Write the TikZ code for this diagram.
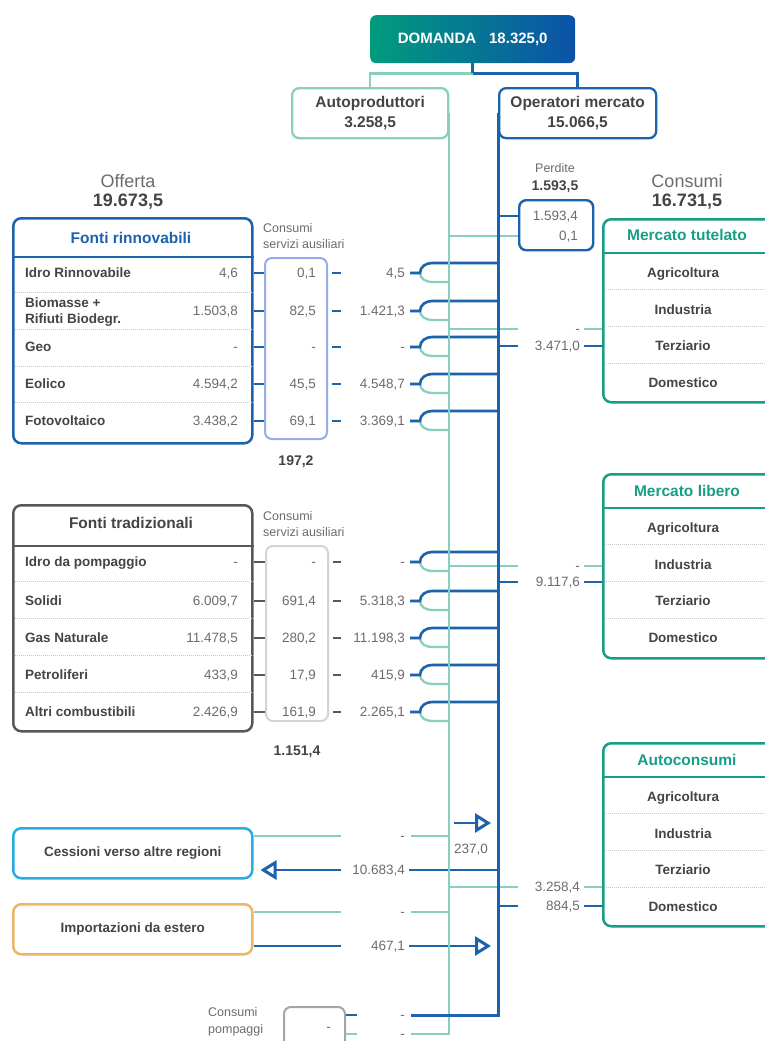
\documentclass[tikz,border=0pt]{standalone}
\usepackage{fontspec}
\setmainfont{Liberation Sans}
\usetikzlibrary{arrows.meta,positioning,calc}
\definecolor{opblue}{RGB}{28,98,172}
\definecolor{autoteal}{RGB}{136,207,192}
\definecolor{consgreen}{RGB}{22,158,134}
\definecolor{auxblue}{RGB}{150,172,232}
\definecolor{tradgray}{RGB}{88,88,88}
\definecolor{auxgray}{RGB}{212,212,212}
\definecolor{pompgray}{RGB}{165,165,165}
\definecolor{cessblue}{RGB}{38,174,226}
\definecolor{imporange}{RGB}{237,182,102}
\definecolor{valgray}{RGB}{108,108,108}
\definecolor{labgray}{RGB}{68,68,68}
\definecolor{domgreen}{RGB}{0,156,126}
\definecolor{domblue}{RGB}{12,82,168}
\colorlet{stemcol}{domgreen!45!domblue}

% net value splits into the two bars
\newcommand{\netfork}[1]{%
  \draw[tl] ($(#1.east)+(5,0)$) -- ++(10,0) to[out=-90,in=180] ++(12,9) coordinate (#1-d) -- (#1-d -| tA);
  \draw[bl] ($(#1.east)+(5,0)$) -- ++(10,0) to[out=90,in=180] ++(12,-10) coordinate (#1-u) -- (#1-u -| tB);
}

\begin{document}
\begin{tikzpicture}[x=1pt, y=-1pt,
    panel/.style={draw, line width=2.5pt, rounded corners=8pt, anchor=north west, inner sep=0pt},
    auxbox/.style={draw, line width=2pt, rounded corners=7pt, anchor=north west, inner sep=0pt},
    lab/.style={anchor=west, inner sep=0pt, text=labgray, font=\fontsize{13.5}{16}\selectfont\bfseries, text height=10pt, text depth=0.5pt},
    val/.style={anchor=east, inner sep=0pt, text=valgray, font=\fontsize{13.5}{16}\selectfont, text height=10pt, text depth=0.5pt},
    sector/.style={lab, anchor=center},
    ttl/.style={inner sep=0pt, font=\fontsize{15.5}{19}\selectfont\bfseries, text height=11.5pt, text depth=0.5pt},
    small/.style={inner sep=0pt, text=valgray, font=\fontsize{12.5}{16.5}\selectfont, align=left},
    tot/.style={inner sep=0pt, text=labgray, font=\fontsize{14}{16}\selectfont\bfseries, text height=10pt, text depth=0.5pt},
    headtxt/.style={inner sep=0pt, text=valgray, font=\fontsize{18}{20}\selectfont},
    headtot/.style={inner sep=0pt, text=labgray, font=\fontsize{18}{20}\selectfont\bfseries},
    bl/.style={draw=opblue, line width=2.6pt},
    tl/.style={draw=autoteal, line width=2.3pt},
    gl/.style={draw=tradgray, line width=2.6pt},
    sep/.style={draw=black!22, densely dotted, line width=1pt},
    openarrow/.style={-{Triangle[open, fill=white, length=16pt, width=19pt, line width=3pt]}},
  ]
  \useasboundingbox (0,0) rectangle (765,1041);
  \clip (0,0) rectangle (765,1041);
  \fill[white] (0,0) rectangle (765,1041);

  % demand and the two groups
  \node[anchor=north west, minimum width=205pt, minimum height=48pt, inner sep=0pt, rounded corners=6pt,
        left color=domgreen, right color=domblue, text=white, font=\fontsize{15}{17}\selectfont\bfseries]
        (dom) at (370,15) {DOMANDA\hspace{13pt}18.325,0};
  \node[panel, draw=autoteal, line width=2.3pt, minimum width=156pt, minimum height=50pt, rounded corners=7pt,
        align=center, text=labgray, font=\fontsize{15.5}{20}\selectfont\bfseries] (auto) at (291,87) {Autoproduttori\\3.258,5};
  \node[panel, draw=opblue, line width=2.3pt, minimum width=157pt, minimum height=50pt, rounded corners=7pt,
        align=center, text=labgray, font=\fontsize{15.5}{20}\selectfont\bfseries] (oper) at (498,87) {Operatori mercato\\15.066,5};
  \coordinate (split) at ($(dom.south)+(0,10)$);
  \draw[tl] (split) -| (auto.north);
  \draw[bl] (split) -| (oper.north);
  \draw[draw=stemcol, line width=2.6pt] (dom.south) -- (split);

  \coordinate (tA) at (auto.east);
  \coordinate (tB) at (oper.west);
  \coordinate (gapM) at (341,0);
  \coordinate (gapL) at (518,0);
  \coordinate (gapS) at (357,0);

  \node[headtxt] (off) at (128,181) {Offerta};
  \node[headtot] (offtot) at (128,202) {19.673,5};
  \node[headtxt] (cons) at (687,181) {Consumi};
  \node[headtot] (constot) at (687,202) {16.731,5};

  % perdite
  \node[small] (perdlab) at (555,168) {Perdite};
  \node[tot] (perdtot) at (555,186) {1.593,5};
  \node[auxbox, draw=opblue, line width=2.4pt, minimum width=74pt, minimum height=50pt] (perd) at (518,199) {};
  \node[val] (perd1) at (578,216) {1.593,4};
  \node[val] (perd2) at (578,236) {0,1};

  % fonti rinnovabili
  \node[panel, draw=opblue, minimum width=239pt, minimum height=225pt] (rinn) at (12,217) {};
  \draw[opblue, line width=2.5pt] (rinn.west |- 0,257) -- (rinn.east |- 0,257);
  \node[ttl, text=opblue] (rinnttl) at (131,238) {Fonti rinnovabili};
  \foreach \yy in {292,329,366,402} \draw[sep] (rinn.west |- 0,\yy) ++(3,0) -- (rinn.east |- 0,\yy);
  \node[auxbox, draw=auxblue, minimum width=62pt, minimum height=181pt] (rinnaux) at (264,257) {};
  \node[small, above right=8pt and -1pt of rinnaux.north west] (rinnauxlab) {Consumi\\servizi ausiliari};
  \node[tot, below=15pt of rinnaux] (rinnsum) {197,2};

  % fonti tradizionali
  \node[panel, draw=tradgray, minimum width=239pt, minimum height=226pt] (trad) at (12,504) {};
  \draw[tradgray, line width=2.5pt] (trad.west |- 0,546) -- (trad.east |- 0,546);
  \node[ttl, text=labgray] (tradttl) at (131,523) {Fonti tradizionali};
  \foreach \yy in {581,618,655,692} \draw[sep] (trad.west |- 0,\yy) ++(3,0) -- (trad.east |- 0,\yy);
  \node[auxbox, draw=auxgray, minimum width=62pt, minimum height=175pt] (tradaux) at (265,545) {};
  \node[small, above right=8pt and -2pt of tradaux.north west] (tradauxlab) {Consumi\\servizi ausiliari};
  \node[tot, below=23pt of tradaux] (tradsum) {1.151,4};

  % consumi
  \node[panel, draw=consgreen, minimum width=200pt, minimum height=183pt] (tut) at (602,218) {};
  \node[panel, draw=consgreen, minimum width=200pt, minimum height=184pt] (lib) at (602,473) {};
  \node[panel, draw=consgreen, minimum width=200pt, minimum height=183pt] (aut) at (602,742) {};
  \node[ttl, text=consgreen] (tutttl) at (687,235) {Mercato tutelato};
  \node[ttl, text=consgreen] (libttl) at (687,491) {Mercato libero};
  \node[ttl, text=consgreen] (autttl) at (687,760) {Autoconsumi};
  \foreach \p in {tut,lib,aut}{
    \draw[consgreen, line width=2.5pt] ($(\p.north west)+(0,35)$) -- ($(\p.north east)+(0,35)$);
    \foreach \d in {71,108,145} \draw[sep] ($(\p.north west)+(4,\d)$) -- ($(\p.north east)+(0,\d)$);
    \foreach \s [count=\k] in {Agricoltura,Industria,Terziario,Domestico}
      \node[sector] (\p\k) at ($(\p.north west)+(81,18+36.7*\k)$) {\s};
  }
  \node[val] (tutT) at (580,329) {-};
  \node[val] (tutB) at (580,346) {3.471,0};
  \node[val] (libT) at (580,566) {-};
  \node[val] (libB) at (580,582) {9.117,6};
  \node[val] (autT) at (580,887) {3.258,4};
  \node[val] (autB) at (580,906) {884,5};

  % scambi
  \node[panel, draw=cessblue, minimum width=239pt, minimum height=50pt, text=labgray,
        font=\fontsize{13.5}{16}\selectfont\bfseries] (cess) at (12,827) {Cessioni verso altre regioni};
  \node[val] (cessT) at (405,836) {-};
  \node[val] (cessB) at (405,870) {10.683,4};
  \node[val, anchor=center] (exch) at (471,849) {237,0};
  \node[panel, draw=imporange, minimum width=239pt, minimum height=50pt, text=labgray,
        font=\fontsize{13.5}{16}\selectfont\bfseries] (imp) at (12,903) {Importazioni da estero};
  \node[val] (impT) at (405,912) {-};
  \node[val] (impB) at (405,946) {467,1};

  \node[small, anchor=west] (pomplab) at (208,1022) {Consumi\\pompaggi};
  \node[auxbox, draw=pompgray, minimum width=61pt, minimum height=50pt] (pomp) at (283,1006) {};
  \node[val] (pompv) at (331,1027) {-};
  \node[val] (pompB) at (405,1015) {-};
  \node[val] (pompT) at (405,1034) {-};

  % branches
  \draw[tl] (perd2 -| tA) -- (perd2 -| perd.west);
  \draw[bl] (perd1 -| tB) -- (perd1 -| perd.west);

  \foreach \nm/\yy/\txt/\vs/\vx/\vn in {
      1/273/{Idro Rinnovabile}/{4,6}/{0,1}/{4,5},
      2/311/{\begin{tabular}{@{}l@{}}Biomasse +\\Rifiuti Biodegr.\end{tabular}}/{1.503,8}/{82,5}/{1.421,3},
      3/347/Geo/-/-/-,
      4/384/Eolico/{4.594,2}/{45,5}/{4.548,7},
      5/421/Fotovoltaico/{3.438,2}/{69,1}/{3.369,1}}{
    \node[lab] (rl\nm) at (25,\yy) {\txt};
    \node[val] (rv\nm) at (238,\yy) {\vs};
    \node[val] (ra\nm) at (316,\yy) {\vx};
    \node[val] (rn\nm) at (405,\yy) {\vn};
    \draw[bl] (rinn.east |- rv\nm) -- (rinnaux.west |- rv\nm);
    \draw[bl] ($(rinnaux.east |- ra\nm)+(4,0)$) -- (ra\nm -| gapM);
    \netfork{rn\nm}
  }
  \foreach \nm/\yy/\txt/\vs/\vx/\vn in {
      1/562/{Idro da pompaggio}/-/-/-,
      2/601/Solidi/{6.009,7}/{691,4}/{5.318,3},
      3/638/{Gas Naturale}/{11.478,5}/{280,2}/{11.198,3},
      4/675/Petroliferi/{433,9}/{17,9}/{415,9},
      5/712/{Altri combustibili}/{2.426,9}/{161,9}/{2.265,1}}{
    \node[lab] (tl\nm) at (25,\yy) {\txt};
    \node[val] (tv\nm) at (238,\yy) {\vs};
    \node[val] (ta\nm) at (316,\yy) {\vx};
    \node[val] (tn\nm) at (405,\yy) {\vn};
    \draw[gl] (trad.east |- tv\nm) -- (tradaux.west |- tv\nm);
    \draw[gl] ($(tradaux.east |- ta\nm)+(4,0)$) -- (ta\nm -| gapM);
    \netfork{tn\nm}
  }

  \foreach \p in {tut,lib,aut}{
    \draw[tl] (\p T -| tA) -- (\p T -| gapL);
    \draw[tl] ($(\p T.east)+(4,0)$) -- (\p T -| \p.west);
    \draw[bl] (\p B -| tB) -- (\p B -| gapL);
    \draw[bl] ($(\p B.east)+(4,0)$) -- (\p B -| \p.west);
  }

  \draw[tl] (cessT -| cess.east) -- (cessT -| gapM);
  \draw[tl] ($(cessT.east)+(6,0)$) -- (cessT -| tA);
  \draw[bl] (cessB -| tB) -- ($(cessB.east)+(4,0)$);
  \draw[bl, openarrow, shorten >=7pt] (cessB -| gapM) -- (cessB -| cess.east);
  \draw[bl, openarrow] ($(exch -| tA)+(5,-26)$) -- ($(exch -| tB)+(-7,-26)$);

  \draw[tl] (impT -| imp.east) -- (impT -| gapM);
  \draw[tl] ($(impT.east)+(6,0)$) -- (impT -| tA);
  \draw[bl] (impB -| imp.east) -- (impB -| gapM);
  \draw[bl, openarrow, shorten >=7pt] ($(impB.east)+(4,0)$) -- (impB -| tB);

  \draw[bl] (pompB -| pomp.east) -- (pompB -| gapS);
  \draw[tl] (pompT -| pomp.east) -- (pompT -| gapS);

  % bars
  \draw[tl] (tA) -- (tA |- pompT) -- ($(pompT.east)+(6,0)$);
  \draw[bl, line width=3pt] (tB) -- (tB |- pompB) -- ($(pompB.east)+(6,0)$);

\end{tikzpicture}
\end{document}
